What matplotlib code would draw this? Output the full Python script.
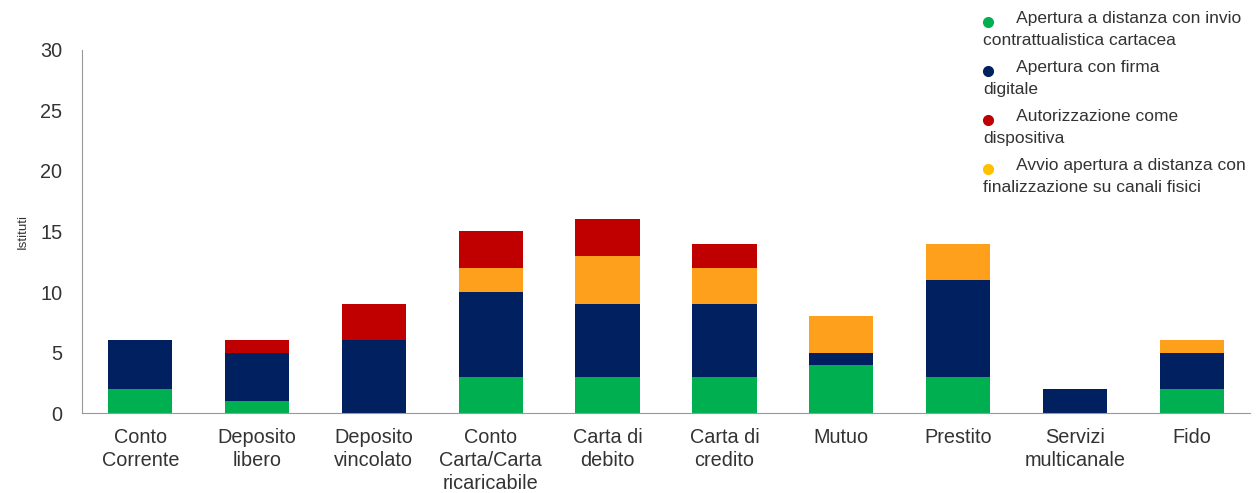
import numpy as np
import matplotlib.pyplot as plt
from matplotlib.lines import Line2D

plt.rcParams['font.family'] = ['Liberation Sans', 'DejaVu Sans']

# categorie e serie (numero di istituti)
categorie = ['Conto\nCorrente', 'Deposito\nlibero', 'Deposito\nvincolato',
             'Conto\nCarta/Carta\nricaricabile', 'Carta di\ndebito', 'Carta di\ncredito',
             'Mutuo', 'Prestito', 'Servizi\nmulticanale', 'Fido']
cartacea = [2, 1, 0, 3, 3, 3, 4, 3, 0, 2]
firma_digitale = [4, 4, 6, 7, 6, 6, 1, 8, 2, 3]
canali_fisici = [0, 0, 0, 2, 4, 3, 3, 3, 0, 1]
dispositiva = [0, 1, 3, 3, 3, 2, 0, 0, 0, 0]

etichette = ['Apertura a distanza con invio\ncontrattualistica cartacea',
             'Apertura con firma\ndigitale',
             'Autorizzazione come\ndispositiva',
             'Avvio apertura a distanza con\nfinalizzazione su canali fisici']

col_verde = '#00B050'
col_blu = '#002060'
col_rosso = '#C00000'
col_arancio = '#FFA01C'
col_giallo = '#FFC000'

fig = plt.figure(figsize=(12.59, 4.93), dpi=100)
ax = fig.add_axes([0.065, 0.162, 0.928, 0.737])

x = np.arange(len(categorie))
w = 0.55
base = np.zeros(len(categorie))
for vals, col in [(cartacea, col_verde), (firma_digitale, col_blu),
                  (canali_fisici, col_arancio), (dispositiva, col_rosso)]:
    ax.bar(x, vals, w, bottom=base, color=col, linewidth=0)
    base += np.array(vals)

ax.set_xlim(-0.5, len(categorie) - 0.5)
ax.set_ylim(0, 30)
ax.set_yticks(range(0, 31, 5))
ax.set_xticks(x)
ax.set_xticklabels(categorie, fontsize=14.3, color='#333333', linespacing=1.26)
ax.tick_params(axis='y', labelsize=14.3, labelcolor='#333333', length=0, pad=14)
ax.tick_params(axis='x', length=0, pad=11)
ax.set_ylabel('Istituti', fontsize=9.5, color='#333333', labelpad=8)
for s in ['top', 'right']:
    ax.spines[s].set_visible(False)
for s in ['left', 'bottom']:
    ax.spines[s].set_color('#999999')

# legenda a punti in alto a destra
colori_leg = [col_verde, col_blu, col_rosso, col_giallo]
y0 = 1 - 22 / 493
for i, (lab, col) in enumerate(zip(etichette, colori_leg)):
    yy = y0 - i * 49 / 493
    fig.add_artist(Line2D([988 / 1259], [yy], marker='o', markersize=7,
                          color=col, transform=fig.transFigure, linestyle=''))
    fig.text(983 / 1259, yy + 11 / 493, '       ' + lab, fontsize=12.5, color='#333333',
             va='top', ha='left', linespacing=1.55)

fig.savefig('out.png', dpi=100)
